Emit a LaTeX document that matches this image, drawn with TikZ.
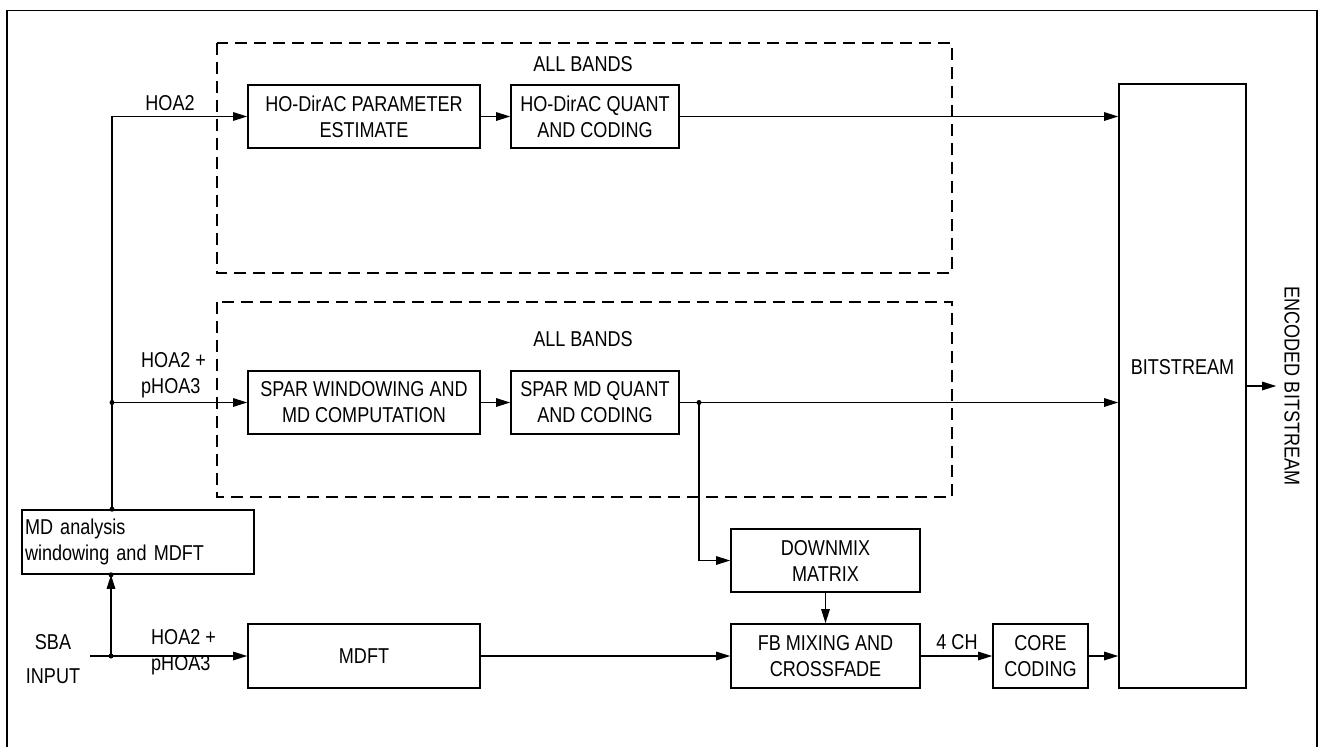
\documentclass[tikz,border=0pt]{standalone}
\usepackage{fontspec}
\setmainfont{Liberation Sans}[FakeStretch=0.84]
\usepackage{tikz}
\usetikzlibrary{arrows.meta,positioning,calc}

\newcommand{\blockfont}{\fontsize{21.5}{26}\selectfont}

\begin{document}
\begin{tikzpicture}[x=1pt, y=-1pt,
		box/.style={draw, line width=1.6pt, minimum width=232pt, minimum height=63pt,
				inner sep=2pt, align=center, font=\blockfont},
		mdbox/.style={draw, line width=1.6pt, minimum width=232pt, minimum height=64pt,
				inner sep=3pt, text width=226pt, align=left, font=\blockfont},
		bsbox/.style={draw, line width=1.6pt, minimum width=127pt, minimum height=604pt},
		bandbox/.style={draw, line width=1.6pt, dash pattern=on 12pt off 7pt},
		lbl/.style={font=\blockfont, inner sep=2pt},
		wire/.style={-{Triangle[length=14pt, width=8.5pt]}, line width=1.2pt},
		dot/.style={fill=black}]

		\useasboundingbox (0,0) rectangle (1322,747);

		% ── outer frame ──
		\draw[line width=1.6pt] (7,747) -- (7,10.5) -- (1317,10.5) -- (1317,747);

		% ── all-bands regions ──
		\draw[bandbox] (217,43) rectangle (952,273);
		\draw[bandbox] (217,302) rectangle (952,497);
		\node[lbl] (bandsA) at (583,64) {ALL BANDS};
		\node[lbl] (bandsB) at (583,339) {ALL BANDS};

		% ── HO-DirAC path ──
		\node[box] (hoest) at (364,116.5) {HO-DirAC PARAMETER\\ESTIMATE};
		\node[box, minimum width=168pt] (hoquant) at (595,116.5) {HO-DirAC QUANT\\AND CODING};

		% ── SPAR path ──
		\node[box] (sparwin) at (364,402.5) {SPAR WINDOWING AND\\MD COMPUTATION};
		\node[box, minimum width=168pt] (sparquant) at (595,402.5) {SPAR MD QUANT\\AND CODING};

		% ── analysis and signal path ──
		\node[mdbox] (mdana) at (138,542) {MD analysis\\windowing and MDFT};
		\node[box, minimum height=64pt] (mdft) at (364,656) {MDFT};
		\node[box, minimum width=189pt] (downmix) at (825.5,560.5) {DOWNMIX\\MATRIX};
		\node[box, minimum width=189pt, minimum height=64pt] (fbmix) at (825.5,656) {FB MIXING AND\\CROSSFADE};
		\node[box, minimum width=95pt, minimum height=64pt] (core) at (1040.5,656) {CORE\\CODING};

		% ── bitstream ──
		\node[bsbox] (bits) at (1182.5,386) {};
		\node[lbl] (bitstxt) at (1182.5,367) {BITSTREAM};
		\node[lbl, rotate=-90, inner sep=8pt] (enc) at (1292,386) {ENCODED BITSTREAM};

		% ── signal labels ──
		\node[lbl] (hoa2) at (170,103) {HOA2};
		\node[lbl, align=left, anchor=west] (hoapA) at (139,375) {HOA2 +\\pHOA3};
		\node[lbl, align=left, anchor=west] (hoapB) at (149,652) {HOA2 +\\pHOA3};
		\node[lbl, align=center] (sba) at (53,659) {SBA\\[8pt]INPUT};
		\node[lbl] (ch4) at (957,642) {4 CH};

		% ── junctions ──
		\coordinate (jA) at (112,402.5);
		\coordinate (jB) at (111,656);
		\coordinate (jC) at (699,402.5);
		\coordinate (sbain) at (90,656);
		\coordinate (mdtop) at (mdana.north -| jA);
		\coordinate (mdbot) at (mdana.south -| jB);

		% ── wires ──
		\draw[wire] (mdtop) |- (hoest.west);
		\draw[wire] (jA) -- (sparwin.west);
		\draw[wire] (sbain) -- (mdft.west);
		\draw[wire] (jB) -- (mdbot);
		\draw[wire] (hoest) -- (hoquant);
		\draw[wire] (hoquant) -- (bits.west |- hoquant.east);
		\draw[wire] (sparwin) -- (sparquant);
		\draw[wire] (sparquant) -- (bits.west |- sparquant.east);
		\draw[wire] (jC) |- (downmix.west);
		\draw[wire] (downmix) -- (fbmix);
		\draw[wire] (mdft) -- (fbmix);
		\draw[wire] (fbmix) -- (core);
		\draw[wire] (core) -- (bits.west |- core.east);
		\draw[wire] (bits.east |- enc.south) -- (enc.south);

		\foreach \p in {jA, jB, jC, mdtop, mdbot}
			\fill[dot] (\p) circle (2.5);

	\end{tikzpicture}
\end{document}
